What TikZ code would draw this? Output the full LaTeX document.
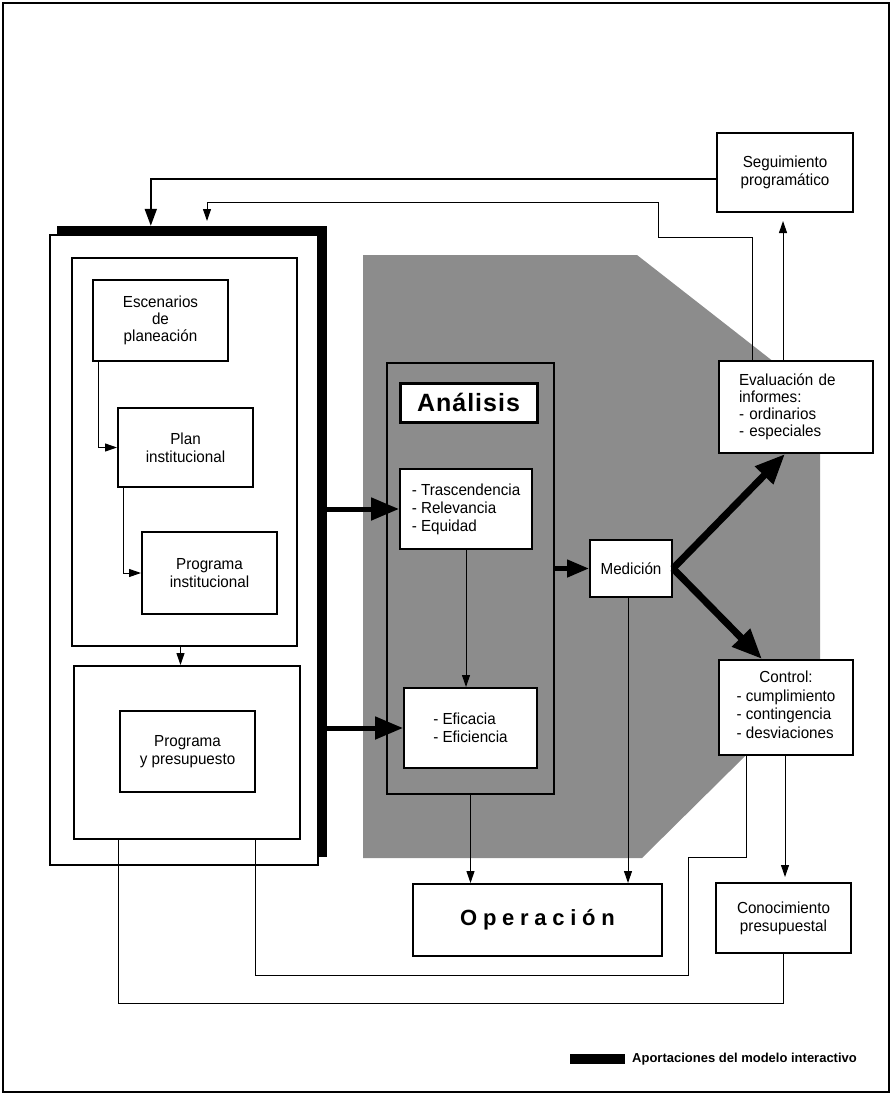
\documentclass[tikz,border=0pt]{standalone}
\usepackage{fontspec}
\setmainfont{Liberation Sans}
\newfontfamily\nfont[FakeStretch=0.95]{Liberation Sans}
\usetikzlibrary{arrows.meta}
\newcommand\fs{\nfont\fontsize{16}{18}\selectfont}
\newcommand\fsb{\nfont\fontsize{16}{17}\selectfont}
\begin{document}
\begin{tikzpicture}[x=1pt,y=-1pt,
  box/.style={draw, line width=2pt, fill=white, align=center, inner sep=0pt, font=\fs},
  frameline/.style={line width=2pt},
  thinline/.style={line width=1pt},
  thinarrow/.style={line width=1pt, -{Triangle[length=12pt,width=8pt]}},
  fbarrow/.style={line width=2pt, -{Triangle[length=17pt,width=12pt]}},
  bigarrow/.style={line width=5pt, -{Triangle[length=28pt,width=22pt]}},
  medarrow/.style={line width=4.5pt, -{Triangle[length=22pt,width=17pt]}},
  diagarrow/.style={line width=7pt, -{Triangle[length=30pt,width=24pt]}},
  graybg/.style={fill=black!45}
]
\useasboundingbox (0,0) rectangle (895,1097);
% outer frame
\draw[frameline] (3,3) rectangle (889,1092);

% gray region
\fill[graybg] (363,255) -- (637,255) -- (820,398) -- (820,682) -- (642,858) -- (363,858) -- cycle;

% left big block with black shadow
\node[fill=black, minimum width=270, minimum height=631, inner sep=0pt] (shadow) at (192,541.5) {};
\node[draw, line width=2pt, fill=white, minimum width=268, minimum height=630, inner sep=0pt] (big) at (184,550) {};
\node[draw, line width=2pt, fill=white, minimum width=225, minimum height=388, inner sep=0pt] (inner1) at (184.5,452) {};
\node[draw, line width=2pt, fill=white, minimum width=226, minimum height=173, inner sep=0pt] (inner2) at (187,752.5) {};

\node[box, minimum width=135, minimum height=81, font=\fsb] (esc) at (160.5,320.5) {Escenarios\\de\\planeación};
\node[box, minimum width=135, minimum height=79] (plan) at (185.5,447.5) {Plan\\institucional};
\node[box, minimum width=135, minimum height=82] (prog) at (209.5,573) {Programa\\institucional};
\node[box, minimum width=135, minimum height=81] (pyp) at (187.5,751.5) {Programa\\y presupuesto};

% analysis block
\node[draw, line width=2.5pt, minimum width=167, minimum height=431, inner sep=0pt] (anout) at (470.5,578.5) {};
\node[box, line width=3pt, minimum width=137, minimum height=39,
      font=\bfseries\fontsize{25}{28}\selectfont\addfontfeatures{LetterSpace=4}] (antitle) at (468.5,402.5) {Análisis};
\node[box, align=left, minimum width=132, minimum height=80] (tras) at (466,509) {- Trascendencia\\- Relevancia\\- Equidad};
\node[box, align=left, minimum width=133, minimum height=80] (efic) at (470.5,728) {- Eficacia\\- Eficiencia};

\node[box, minimum width=82, minimum height=57] (med) at (631,568.5) {Medición};

\node[box, align=left, text width=114pt, inner xsep=20pt, minimum height=92, font=\fsb] (eval) at (796,407) {Evaluación de\\informes:\\- ordinarios\\- especiales};
\node[box, minimum width=134, minimum height=95, font=\nfont\fontsize{16}{18.5}\selectfont] (ctrl) at (786,707.5)
  {Control:\\\begin{tabular}[t]{@{}l@{}}- cumplimiento\\- contingencia\\- desviaciones\end{tabular}};
\node[box, minimum width=136, minimum height=79] (seg) at (785,172.5) {Seguimiento\\programático};
\node[box, minimum width=249, minimum height=72,
      font=\bfseries\fontsize{22}{26}\selectfont\addfontfeatures{LetterSpace=26}] (oper) at (537.5,920) {Operación};
\node[box, minimum width=135, minimum height=70] (cono) at (783.5,918) {Conocimiento\\presupuestal};

% legend
\node[fill=black, minimum width=55, minimum height=10, inner sep=0pt] (leg) at (597.5,1059) {};
\node[anchor=west, inner sep=0pt, font=\bfseries\fontsize{13}{15}\selectfont] (legtxt) at (632,1059) {Aportaciones del modelo interactivo};

% connectors inside left block
\draw[thinarrow] ([xshift=-62.5pt]esc.south) |- (plan.west);
\draw[thinarrow] ([xshift=-62.5pt]plan.south) |- (prog.west);
\draw[thinarrow] ([xshift=-4pt]inner1.south) -- ([xshift=-4pt]inner1.south |- inner2.north);

% thick arrows into analysis
\draw[bigarrow] (shadow.east |- tras.west) -- (tras.west);
\draw[bigarrow] (shadow.east |- efic.west) -- (efic.west);
\draw[thinarrow] (tras.south) -- (tras.south |- efic.north);
\draw[medarrow] (anout.east |- med.west) -- (med.west);

% measurement outputs
\draw[diagarrow] (med.east) -- ([xshift=-11pt]eval.south);
\draw[diagarrow] (med.east) -- ([xshift=-24pt]ctrl.north);
\draw[thinarrow] ([xshift=-3pt]med.south) -- ([xshift=-3pt]med.south |- oper.north);
\draw[thinarrow] (anout.south) -- (anout.south |- oper.north);

% evaluation to follow-up
\draw[thinarrow, shorten >=8pt] ([xshift=-13pt]eval.north) -- ([xshift=-13pt]eval.north |- seg.south);

% feedback lines to the left block
\coordinate (fb2end) at (207,221);
\draw[fbarrow] ([yshift=-6.5pt]seg.west) -| ([xshift=94pt]shadow.north west);
\draw[thinarrow] ([xshift=-44pt]eval.north) |- (658,237) |- (207,202) -- (fb2end);

% control outputs
\draw[thinarrow, shorten >=5pt] ([xshift=-1pt]ctrl.south) -- ([xshift=-1pt]ctrl.south |- cono.north);
\draw[thinline] ([xshift=-40pt]ctrl.south) |- (688,857) |- (255,975) -- ([xshift=68pt]inner2.south);
\draw[thinline] (cono.south) |- (118,1003) -- ([xshift=-69pt]inner2.south);
\end{tikzpicture}
\end{document}
